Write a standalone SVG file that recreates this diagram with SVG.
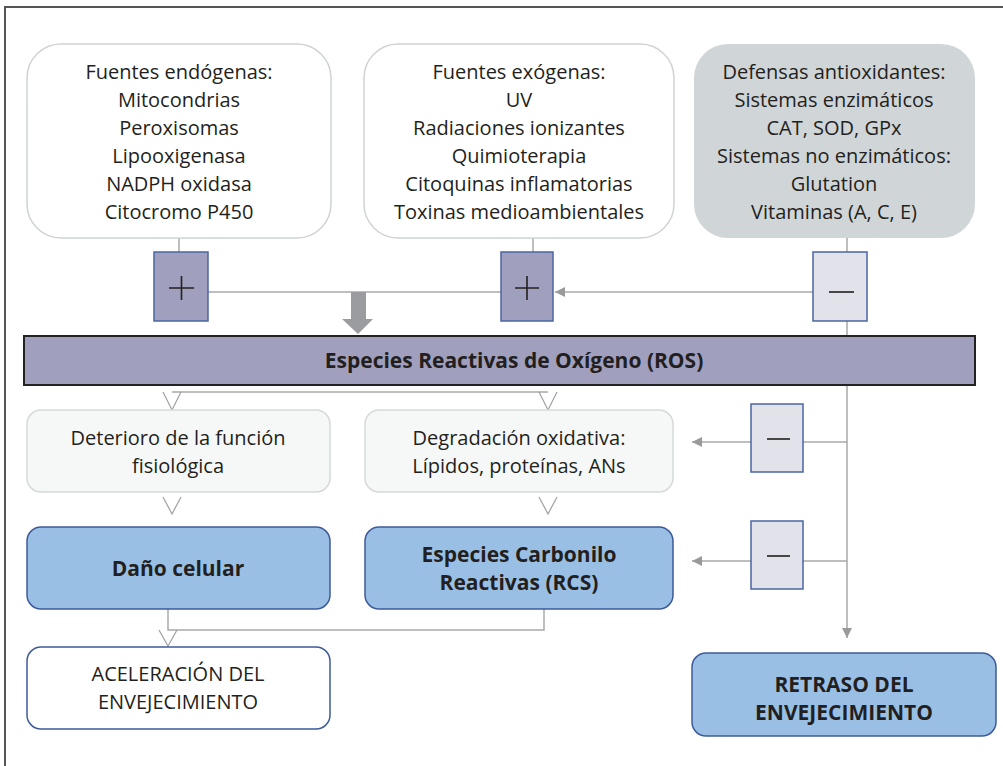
<svg xmlns="http://www.w3.org/2000/svg" width="1003" height="766" viewBox="0 0 1003 766">
<style>
text{font-family:"Open Sans","Noto Sans","Liberation Sans",sans-serif;font-size:20px;fill:#231f20;text-anchor:middle}
.b{font-weight:bold;font-size:21px}
.src{fill:#fff;stroke:#cfd3d3;stroke-width:1.5}
.def{fill:#d0d5d8}
.mid{fill:#f6f8f7;stroke:#d5dad8;stroke-width:1.5}
.blue{fill:#9abfe4;stroke:#3e5b99;stroke-width:1.5}
.out{fill:#fff;stroke:#3e5b99;stroke-width:1.5}
.plus{fill:#a0a0be;stroke:#4a66a0;stroke-width:1.5}
.minus{fill:#e1e2ea;stroke:#4a66a0;stroke-width:1.5}
.sym{stroke:#231f20;stroke-width:1.6;fill:none}
.ln{stroke:#a9a9a9;stroke-width:1.5;fill:none}
.v{stroke:#a0a0a0;stroke-width:1.2;fill:none}
</style>
<defs>
<marker id="ah" viewBox="0 0 10 10" refX="10" refY="5" markerWidth="10" markerHeight="10" markerUnits="userSpaceOnUse" orient="auto">
<path d="M0,0 L10,5 L0,10 z" fill="#9a9a9a"/>
</marker>
</defs>
<rect width="1003" height="766" fill="#fff"/>
<path d="M5,766 V7 H1003" fill="none" stroke="#555" stroke-width="2"/>

<g id="connectors">
<line class="ln" x1="179" y1="238" x2="179" y2="252"/>
<line class="ln" x1="533" y1="238" x2="533" y2="252"/>
<line class="ln" x1="847" y1="238" x2="847" y2="252"/>
<line class="ln" x1="208" y1="292" x2="501" y2="292"/>
<line class="ln" x1="813" y1="292" x2="555" y2="292" marker-end="url(#ah)"/>
<path d="M351,292 H366 V319 H373 L358,334 L342,319 H351 Z" fill="#9b9c9f"/>
<line class="ln" x1="847" y1="321" x2="847" y2="336"/>
<line class="ln" x1="847" y1="385" x2="847" y2="638" marker-end="url(#ah)"/>
<line class="ln" x1="847" y1="442" x2="803" y2="442"/>
<line class="ln" x1="751" y1="442" x2="692" y2="442" marker-end="url(#ah)"/>
<line class="ln" x1="847" y1="561" x2="803" y2="561"/>
<line class="ln" x1="751" y1="561" x2="692" y2="561" marker-end="url(#ah)"/>
<line class="ln" x1="172" y1="392" x2="548" y2="392"/>
<path class="v" d="M163,392 L172,410 L181,392"/>
<path class="v" d="M539,392 L548,410 L557,392"/>
<path class="v" d="M163,497 L172,514 L181,497"/>
<path class="v" d="M539,497 L548,514 L557,497"/>
<path class="ln" d="M168,609 V630 H544 V609"/>
<path class="v" d="M159,630 L168,646 L177,630"/>
</g>

<g id="endogenas">
<rect class="src" x="27" y="44" width="304" height="194" rx="34"/>
<text x="179" y="79">Fuentes endógenas:</text>
<text x="179" y="107">Mitocondrias</text>
<text x="179" y="135">Peroxisomas</text>
<text x="179" y="163">Lipooxigenasa</text>
<text x="179" y="191">NADPH oxidasa</text>
<text x="179" y="219">Citocromo P450</text>
</g>
<g id="exogenas">
<rect class="src" x="364" y="44" width="310" height="194" rx="34"/>
<text x="519" y="79">Fuentes exógenas:</text>
<text x="519" y="107">UV</text>
<text x="519" y="135">Radiaciones ionizantes</text>
<text x="519" y="163">Quimioterapia</text>
<text x="519" y="191">Citoquinas inflamatorias</text>
<text x="519" y="219">Toxinas medioambientales</text>
</g>
<g id="defensas">
<rect class="def" x="694" y="44" width="281" height="194" rx="34"/>
<text x="834" y="79">Defensas antioxidantes:</text>
<text x="834" y="107">Sistemas enzimáticos</text>
<text x="834" y="135">CAT, SOD, GPx</text>
<text x="834" y="163">Sistemas no enzimáticos:</text>
<text x="834" y="191">Glutation</text>
<text x="834" y="219">Vitaminas (A, C, E)</text>
</g>
<g id="plus1">
<rect class="plus" x="154" y="252" width="54" height="69"/>
<path class="sym" d="M169,288 H194 M181.5,276 V300"/>
</g>
<g id="plus2">
<rect class="plus" x="501" y="252" width="52" height="69"/>
<path class="sym" d="M515,288 H539 M527,276 V300"/>
</g>
<g id="minus1">
<rect class="minus" x="813" y="252" width="54" height="69"/>
<path class="sym" d="M829,292 H854"/>
</g>
<g id="ros">
<rect x="24" y="336" width="951" height="49" fill="#a09fbe" stroke="#222" stroke-width="2"/>
<text class="b" x="514" y="368">Especies Reactivas de Oxígeno (ROS)</text>
</g>
<g id="deterioro">
<rect class="mid" x="27" y="410" width="303" height="82" rx="14"/>
<text x="178" y="445">Deterioro de la función</text>
<text x="178" y="473">fisiológica</text>
</g>
<g id="degradacion">
<rect class="mid" x="365" y="410" width="308" height="82" rx="14"/>
<text x="519" y="445">Degradación oxidativa:</text>
<text x="519" y="473">Lípidos, proteínas, ANs</text>
</g>
<g id="minus2">
<rect class="minus" x="751" y="404" width="52" height="68"/>
<path class="sym" d="M767,439 H790"/>
</g>
<g id="minus3">
<rect class="minus" x="751" y="521" width="52" height="68"/>
<path class="sym" d="M767,556 H790"/>
</g>
<g id="dano">
<rect class="blue" x="27" y="527" width="303" height="82" rx="14"/>
<text class="b" x="178" y="576">Daño celular</text>
</g>
<g id="rcs">
<rect class="blue" x="365" y="527" width="308" height="82" rx="14"/>
<text class="b" x="519" y="562">Especies Carbonilo</text>
<text class="b" x="519" y="590">Reactivas (RCS)</text>
</g>
<g id="aceleracion">
<rect class="out" x="27" y="647" width="303" height="82" rx="14"/>
<text x="178" y="681">ACELERACIÓN DEL</text>
<text x="178" y="709">ENVEJECIMIENTO</text>
</g>
<g id="retraso">
<rect class="blue" x="692" y="653" width="304" height="83" rx="14"/>
<text class="b" x="844" y="692">RETRASO DEL</text>
<text class="b" x="844" y="720">ENVEJECIMIENTO</text>
</g>
</svg>
